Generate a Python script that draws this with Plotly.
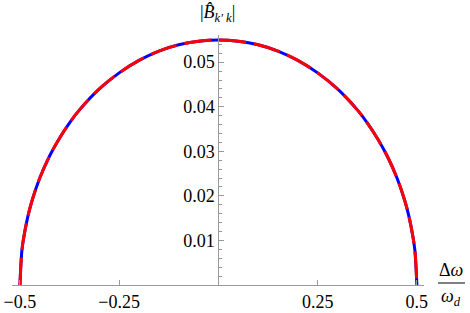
import plotly.graph_objects as go

# Data
dw = [-0.5, -0.495, -0.49, -0.48, -0.47, -0.45, -0.425, -0.4, -0.375, -0.35, -0.3,
      -0.25, -0.2, -0.15, -0.1, -0.05, 0.0, 0.05, 0.1, 0.15, 0.2, 0.25, 0.3,
      0.35, 0.375, 0.4, 0.425, 0.45, 0.47, 0.48, 0.49, 0.495, 0.5]
bkk = [0.0, 0.0078, 0.0109, 0.0154, 0.0188, 0.0240, 0.0290, 0.0330, 0.0364, 0.0393, 0.0440,
       0.0476, 0.0504, 0.0525, 0.0539, 0.0547, 0.0550, 0.0547, 0.0539, 0.0525, 0.0504, 0.0476, 0.0440,
       0.0393, 0.0364, 0.0330, 0.0290, 0.0240, 0.0188, 0.0154, 0.0109, 0.0078, 0.0]

x_ticks = [-0.5, -0.25, 0.25, 0.5]
x_tick_text = ["\u22120.5", "\u22120.25", "0.25", "0.5"]
y_ticks = [0.01, 0.02, 0.03, 0.04, 0.05]
y_tick_text = ["0.01", "0.02", "0.03", "0.04", "0.05"]

xr = [-0.52, 0.518]
yr = [0, 0.0561]
FONT = "'Liberation Serif', 'DejaVu Serif', serif"
FS = 18
AX = "#9a9a9a"

ML, MR, MT, MB = 12, 46, 35, 28
W, H = 470, 313

fig = go.Figure()
fig.add_trace(go.Scatter(x=dw, y=bkk, mode="lines", line=dict(color="#0000ff", width=3, shape="spline"),
                         hoverinfo="skip", showlegend=False))
fig.add_trace(go.Scatter(x=dw, y=bkk, mode="lines",
                         line=dict(color="#ff0000", width=3, shape="spline", dash="27px,8px"),
                         hoverinfo="skip", showlegend=False))

pos0 = (0 - xr[0]) / (xr[1] - xr[0])

fig.update_layout(
    width=W, height=H,
    margin=dict(l=ML, r=MR, t=MT, b=MB, autoexpand=False),
    paper_bgcolor="white", plot_bgcolor="white",
    font=dict(family=FONT, size=FS, color="black"),
    xaxis=dict(range=xr, domain=[0, 1], showgrid=False, zeroline=False, automargin=False,
               showline=True, linecolor=AX, linewidth=1,
               tickmode="array", tickvals=x_ticks, ticktext=x_tick_text,
               ticks="inside", ticklen=5, tickcolor=AX,
               tickfont=dict(family=FONT, size=FS)),
    yaxis=dict(range=yr, anchor="free", position=pos0, side="left", automargin=False,
               showgrid=False, zeroline=False,
               showline=True, linecolor=AX, linewidth=1,
               tickmode="array", tickvals=y_ticks, ticktext=y_tick_text,
               ticks="inside", ticklen=5, tickcolor=AX,
               minor=dict(dtick=0.002, ticks="inside", ticklen=3, tickcolor=AX),
               tickfont=dict(family=FONT, size=FS)),
)

px2x = lambda px: (px - ML) / (W - ML - MR)
py2y = lambda py: (H - MB - py) / (H - MT - MB)

# axis labels
fig.add_annotation(x=px2x(217), y=py2y(14), xref="paper", yref="paper", xanchor="center", yanchor="middle",
                   showarrow=False,
                   text="|<i>B\u0302</i><sub><i>k\u2032 k</i></sub>|",
                   font=dict(family=FONT, size=FS))
fig.add_annotation(x=px2x(451), y=py2y(270), xref="paper", yref="paper", showarrow=False,
                   xanchor="center", yanchor="middle", text="\u0394<i>\u03c9</i>",
                   font=dict(family=FONT, size=FS))
fig.add_annotation(x=px2x(451), y=py2y(297), xref="paper", yref="paper", showarrow=False,
                   xanchor="center", yanchor="middle", text="<i>\u03c9<sub>d</sub></i>",
                   font=dict(family=FONT, size=FS))
fig.add_shape(type="line", xref="paper", yref="paper",
              x0=px2x(438), x1=px2x(465), y0=py2y(283), y1=py2y(283),
              line=dict(color="black", width=1))

fig.write_html("out.html", config={"displayModeBar": False},
               post_script="document.body.style.margin='0';")
